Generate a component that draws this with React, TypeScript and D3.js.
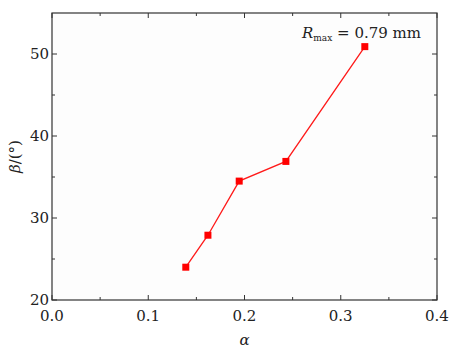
import React from "react";
import * as d3 from "d3";

const alphaValues = [0.139, 0.162, 0.1945, 0.243, 0.325];
const betaValues = [24.0, 27.9, 34.5, 36.9, 50.9];
const xTickValues = [0.0, 0.1, 0.2, 0.3, 0.4];
const yTickValues = [20, 30, 40, 50];
const xMinorTicks = [0.05, 0.15, 0.25, 0.35];
const yMinorTicks = [25, 35, 45];

const W = 454, H = 355;
const L = 52, R = 437, T = 13, B = 300;

export default function App() {
  const x = d3.scaleLinear().domain([0, 0.4]).range([L, R]);
  const y = d3.scaleLinear().domain([20, 55]).range([B, T]);
  const line = d3.line<number>().x((d, i) => x(alphaValues[i])).y((d) => y(d));
  const font = "DejaVu Serif";
  const maj = 5, mnr = 3;
  return (
    <div style={{ position: "absolute", left: 0, top: 0 }}>
      <svg width={W} height={H} style={{ display: "block", background: "#fff" }}>
        <rect x={L} y={T} width={R - L} height={B - T} fill="#fdfdfd" />
        {xTickValues.map((v) => (
          <g key={"xt" + v}>
            <line x1={x(v)} x2={x(v)} y1={B} y2={B - maj} stroke="#333" strokeWidth={1} />
            <line x1={x(v)} x2={x(v)} y1={T} y2={T + maj} stroke="#333" strokeWidth={1} />
            <text x={x(v)} y={B + 21} textAnchor="middle" fontFamily={font} fontSize={15} fill="#222">
              {v.toFixed(1)}
            </text>
          </g>
        ))}
        {xMinorTicks.map((v) => (
          <g key={"xm" + v}>
            <line x1={x(v)} x2={x(v)} y1={B} y2={B - mnr} stroke="#333" strokeWidth={1} />
            <line x1={x(v)} x2={x(v)} y1={T} y2={T + mnr} stroke="#333" strokeWidth={1} />
          </g>
        ))}
        {yTickValues.map((v) => (
          <g key={"yt" + v}>
            <line x1={L} x2={L + maj} y1={y(v)} y2={y(v)} stroke="#333" strokeWidth={1} />
            <line x1={R} x2={R - maj} y1={y(v)} y2={y(v)} stroke="#333" strokeWidth={1} />
            <text x={L - 3} y={y(v) + 5} textAnchor="end" fontFamily={font} fontSize={15} fill="#222">
              {v}
            </text>
          </g>
        ))}
        {yMinorTicks.map((v) => (
          <g key={"ym" + v}>
            <line x1={L} x2={L + mnr} y1={y(v)} y2={y(v)} stroke="#333" strokeWidth={1} />
            <line x1={R} x2={R - mnr} y1={y(v)} y2={y(v)} stroke="#333" strokeWidth={1} />
          </g>
        ))}
        <rect x={L} y={T} width={R - L} height={B - T} fill="none" stroke="#333" strokeWidth={1.2} />
        <path d={line(betaValues) || ""} fill="none" stroke="#ff1a1a" strokeWidth={1.3} />
        {betaValues.map((v, i) => (
          <rect key={"m" + i} x={x(alphaValues[i]) - 3.5} y={y(v) - 3.5} width={7} height={7} fill="#ff0000" />
        ))}
        <text x={302} y={38} fontFamily={font} fontSize={15} fill="#222">
          <tspan fontStyle="italic">R</tspan>
          <tspan fontSize={9} dy={3}>max</tspan>
          <tspan dy={-3}>{" = 0.79 mm"}</tspan>
        </text>
        <text x={(L + R) / 2} y={345} textAnchor="middle" fontFamily={font} fontSize={15} fontStyle="italic" fill="#222">
          α
        </text>
        <text transform={`translate(20, ${(T + B) / 2}) rotate(-90)`} textAnchor="middle" fontFamily={font} fontSize={15} fill="#222">
          <tspan fontStyle="italic">β</tspan>/(°)
        </text>
      </svg>
    </div>
  );
}
